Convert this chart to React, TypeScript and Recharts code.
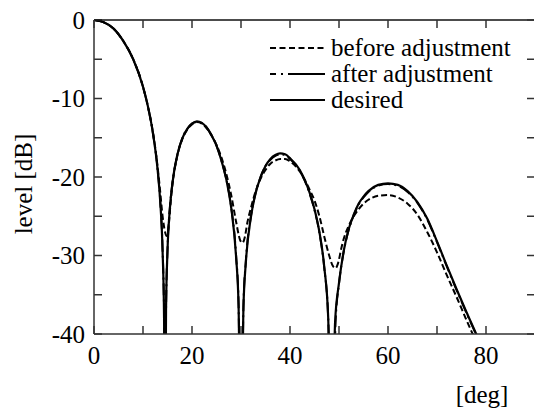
import { LineChart, Line, XAxis, YAxis, Legend } from "recharts";

// angle [deg] and level [dB]; values under -40 are clipped
const desiredDeg = [
  0, 2, 4, 6, 8, 10, 11, 12, 13, 13.5, 14, 14.3, 14.5, 14.7, 15, 15.5, 16, 17,
  18, 19, 20, 21, 22, 23, 24, 25, 26, 27, 28, 29, 29.5, 30, 30.5, 31, 32, 33,
  34, 35, 36, 37, 38, 39, 40, 42, 44, 45, 46, 47, 47.8, 48.5, 49.2, 50, 51, 52,
  53, 54, 55, 56, 58, 60, 62, 64, 66, 68, 70, 72, 74, 76, 78, 80,
];
const desiredDb = [
  0, -0.3, -1.1, -2.7, -5.0, -8.5, -11.0, -14.3, -19.2, -23.0, -29.5, -38, -60,
  -37, -29.4, -23.9, -20.8, -17.2, -15.1, -13.9, -13.2, -12.9, -13.1, -13.7,
  -14.7, -16.0, -17.9, -20.3, -23.9, -30.2, -36.3, -60, -36.6, -30.8, -25.2,
  -22.0, -20.0, -18.6, -17.7, -17.2, -17.0, -17.1, -17.6, -19.1, -22.0, -24.1,
  -27.0, -31.5, -38, -60, -38.5, -33.5, -29.3, -26.6, -24.8, -23.4, -22.5,
  -21.8, -21.0, -20.8, -21.0, -21.8, -23.2, -25.3, -28.2, -31.3, -34.3, -37.2,
  -40.0, -43.0,
];

const afterDeg = [
  0, 2, 4, 6, 8, 10, 11, 12, 13, 13.5, 14, 14.3, 14.5, 14.7, 15, 15.5, 16, 17,
  18, 19, 20, 21, 22, 23, 24, 25, 26, 27, 28, 29, 29.5, 30, 30.5, 31, 32, 33,
  34, 35, 36, 37, 38, 39, 40, 42, 44, 45, 46, 47, 47.8, 48.6, 49.3, 50, 51, 52,
  53, 54, 55, 56, 58, 60, 62, 64, 66, 68, 70, 72, 74, 76, 78, 80,
];
const afterDb = [
  0, -0.3, -1.1, -2.7, -5.0, -8.5, -11.0, -14.3, -19.1, -22.9, -29.3, -37.5,
  -60, -37, -29.3, -23.8, -20.8, -17.2, -15.1, -13.9, -13.2, -13.0, -13.1,
  -13.7, -14.7, -16.0, -17.9, -20.3, -23.8, -30.0, -36.0, -60, -36.4, -30.6,
  -25.1, -22.0, -20.0, -18.6, -17.8, -17.3, -17.1, -17.2, -17.7, -19.2, -22.1,
  -24.2, -27.1, -31.6, -38, -60, -38.5, -33.6, -29.4, -26.7, -24.9, -23.5,
  -22.6, -21.9, -21.1, -20.9, -21.1, -21.9, -23.3, -25.4, -28.3, -31.4, -34.4,
  -37.3, -40.1, -43.1,
];

const beforeDeg = [
  0, 2, 4, 6, 8, 10, 11, 12, 13, 13.5, 14, 14.5, 14.8, 15.2, 15.6, 16, 17, 18,
  19, 20, 21, 22, 23, 24, 25, 26, 27, 28, 29, 29.8, 30.3, 30.8, 31.3, 32, 33,
  34, 35, 36, 37, 38, 39, 40, 42, 44, 45, 46, 47, 48, 48.8, 49.3, 49.8, 50.5,
  51, 52, 53, 54, 55, 56, 58, 60, 62, 64, 66, 68, 70, 72, 74, 76, 78,
];
const beforeDb = [
  0, -0.3, -1.1, -2.7, -5.0, -8.5, -11.0, -14.2, -18.8, -21.8, -25.0, -27.0,
  -27.5, -26.5, -23.5, -21.0, -17.3, -15.2, -14.0, -13.3, -13.0, -13.2, -13.8,
  -14.7, -15.9, -17.5, -19.6, -22.3, -25.7, -28.0, -28.4, -27.6, -25.8, -24.0,
  -21.8, -20.2, -19.1, -18.3, -17.9, -17.7, -17.7, -18.0, -19.3, -21.6, -23.0,
  -25.0, -27.6, -30.0, -31.4, -31.6, -31.0, -29.0, -27.8, -26.2, -25.0, -24.1,
  -23.4, -22.9, -22.4, -22.3, -22.6, -23.4, -24.8, -27.0, -29.6, -32.5, -35.3,
  -38.2, -41.0,
];

const xTicks = [0, 10, 20, 30, 40, 50, 60, 70, 80, 90];
const yTicks = [-40, -35, -30, -25, -20, -15, -10, -5, 0];

const legendItems = [
  { label: "before adjustment", dash: "6 3.5" },
  { label: "after adjustment", dash: "6 5 2 5 40" },
  { label: "desired", dash: "" },
];

// layout (px); the chart is a bit wider than the window so the right edge falls outside
const CHART_W = 540;
const CHART_H = 410;
const PLOT_LEFT = 94;
const PLOT_TOP = 20;
const PLOT_W = 441;
const PLOT_H = 314;
const X_AXIS_H = 40;
const TICK = 8;

const toPoints = (deg: number[], db: number[]) =>
  deg.map((d, i) => ({ deg: d, db: db[i] }));

const FONT = "'Liberation Serif', 'Times New Roman', serif";
const AXIS = "#333";

const BottomTick = (props: any) => {
  const { x, y, payload } = props;
  if (payload.value % 20 !== 0) return <g />;
  return (
    <text x={x} y={y} dy="0.71em" textAnchor="middle" style={{ fontFamily: FONT }} fontSize={25} fill="#000">
      {payload.value}
    </text>
  );
};

const LeftTick = (props: any) => {
  const { x, y, payload } = props;
  if (payload.value % 10 !== 0) return <g />;
  return (
    <text x={x} y={y} dy="0.35em" textAnchor="end" style={{ fontFamily: FONT }} fontSize={25} fill="#000">
      {payload.value}
    </text>
  );
};

const LegendBox = () => (
  <div style={{ fontFamily: FONT, fontSize: 25, color: "#000" }}>
    {legendItems.map((item) => (
      <div key={item.label} style={{ display: "flex", alignItems: "center", height: 26, lineHeight: "26px" }}>
        <svg width={58} height={26}>
          <line x1={2} y1={13} x2={57} y2={13} stroke="#000" strokeWidth={2} strokeDasharray={item.dash || undefined} />
        </svg>
        <span style={{ marginLeft: 5, whiteSpace: "nowrap" }}>{item.label}</span>
      </div>
    ))}
  </div>
);

// top and right edge of the frame with inward ticks, drawn as one svg over the plot
const Frame = () => {
  const xStep = PLOT_W / (xTicks.length - 1);
  const yStep = PLOT_H / (yTicks.length - 1);
  return (
    <svg
      width={CHART_W}
      height={CHART_H}
      style={{ position: "absolute", left: 0, top: 0, zIndex: 5, pointerEvents: "none" }}
    >
      <line x1={PLOT_LEFT} y1={PLOT_TOP} x2={PLOT_LEFT + PLOT_W} y2={PLOT_TOP} stroke="#111" strokeWidth={1.5} />
      <line x1={PLOT_LEFT + PLOT_W} y1={PLOT_TOP} x2={PLOT_LEFT + PLOT_W} y2={PLOT_TOP + PLOT_H} stroke="#111" strokeWidth={1.5} />
      {xTicks.map((t, i) => (
        <line
          key={`tx${t}`}
          x1={PLOT_LEFT + i * xStep}
          y1={PLOT_TOP}
          x2={PLOT_LEFT + i * xStep}
          y2={PLOT_TOP + TICK}
          stroke={AXIS}
          strokeWidth={1.5}
        />
      ))}
      {yTicks.map((v, i) => (
        <line
          key={`ty${v}`}
          x1={PLOT_LEFT + PLOT_W - TICK}
          y1={PLOT_TOP + PLOT_H - i * yStep}
          x2={PLOT_LEFT + PLOT_W}
          y2={PLOT_TOP + PLOT_H - i * yStep}
          stroke={AXIS}
          strokeWidth={1.5}
        />
      ))}
    </svg>
  );
};

export default function App() {
  return (
    <div
      style={{
        position: "absolute",
        left: 0,
        top: 0,
        width: 534,
        height: 410,
        overflow: "hidden",
        background: "#fff",
        fontFamily: FONT,
      }}
    >
      <LineChart
        width={CHART_W}
        height={CHART_H}
        margin={{
          top: PLOT_TOP,
          right: CHART_W - PLOT_LEFT - PLOT_W,
          bottom: CHART_H - PLOT_TOP - PLOT_H - X_AXIS_H,
          left: 0,
        }}
      >
        <XAxis
          dataKey="deg"
          type="number"
          domain={[0, 90]}
          ticks={xTicks}
          allowDataOverflow
          height={X_AXIS_H}
          stroke={AXIS}
          strokeWidth={1.5}
          tickSize={-TICK}
          tickMargin={20}
          tick={BottomTick}
          interval={0}
          label={(p: any) => (
            <text
              x={p.viewBox.x + p.viewBox.width - 53}
              y={p.viewBox.y + 69}
              textAnchor="middle"
              style={{ fontFamily: FONT }}
              fontSize={25}
              fill="#000"
            >
              [deg]
            </text>
          )}
        />
        <YAxis
          type="number"
          domain={[-40, 0]}
          ticks={yTicks}
          allowDataOverflow
          width={PLOT_LEFT}
          stroke={AXIS}
          strokeWidth={1.5}
          tickSize={-TICK}
          tickMargin={17}
          tick={LeftTick}
          interval={0}
          label={(p: any) => {
            const cx = p.viewBox.x + 23;
            const cy = p.viewBox.y + p.viewBox.height / 2 + 7;
            return (
              <text
                x={cx}
                y={cy}
                dy="0.35em"
                transform={`rotate(-90 ${cx} ${cy})`}
                textAnchor="middle"
                style={{ fontFamily: FONT }}
                fontSize={25}
                fill="#000"
              >
                level [dB]
              </text>
            );
          }}
        />
        <Legend
          layout="vertical"
          align="center"
          verticalAlign="middle"
          content={LegendBox}
          wrapperStyle={{ left: 268, top: 35, width: "auto", height: "auto" }}
        />
        <Line
          data={toPoints(beforeDeg, beforeDb)}
          dataKey="db"
          type="monotone"
          stroke="#000"
          strokeWidth={2}
          strokeDasharray="6 3"
          dot={false}
          activeDot={false}
          isAnimationActive={false}
        />
        <Line
          data={toPoints(afterDeg, afterDb)}
          dataKey="db"
          type="monotone"
          stroke="#000"
          strokeWidth={2}
          strokeDasharray="12 4 2 4"
          dot={false}
          activeDot={false}
          isAnimationActive={false}
        />
        <Line
          data={toPoints(desiredDeg, desiredDb)}
          dataKey="db"
          type="monotone"
          stroke="#000"
          strokeWidth={2.2}
          dot={false}
          activeDot={false}
          isAnimationActive={false}
        />
      </LineChart>
      <Frame />
    </div>
  );
}
